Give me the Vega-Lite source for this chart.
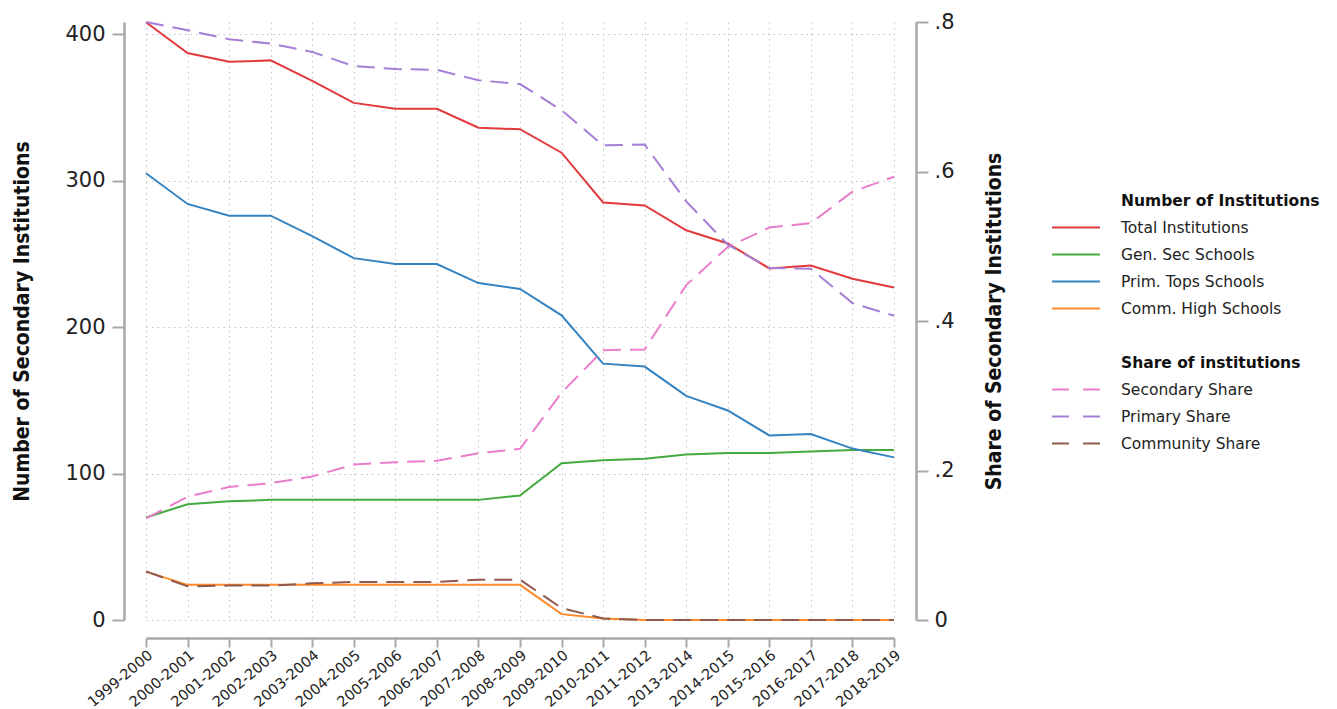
{
  "$schema": "https://vega.github.io/schema/vega-lite/v6.json",
  "width": 748,
  "height": 598,
  "autosize": {"type": "none"},
  "padding": {"left": 146, "top": 22, "right": 443, "bottom": 89},
  "background": "white",
  "config": {
    "view": {"stroke": null},
    "axis": {
      "labelFont": "DejaVu Sans",
      "labelColor": "#222222",
      "domainColor": "#a8a8a8",
      "tickColor": "#a8a8a8",
      "domainWidth": 2.5,
      "tickWidth": 2,
      "gridColor": "#c4c4c4",
      "gridDash": [1.5, 4],
      "gridWidth": 1,
      "titleFont": "DejaVu Sans Condensed, DejaVu Sans",
      "titleFontWeight": "bold",
      "titleColor": "#111111"
    },
    "legend": {
      "labelFont": "DejaVu Sans",
      "labelColor": "#222222",
      "titleFont": "DejaVu Sans",
      "titleFontWeight": "bold",
      "titleColor": "#111111",
      "padding": 0,
      "titleLimit": 400,
      "labelLimit": 400
    }
  },
  "datasets": {
    "counts": [
      {"period": "1999-2000", "series": "Total Institutions", "value": 408},
      {"period": "2000-2001", "series": "Total Institutions", "value": 387},
      {"period": "2001-2002", "series": "Total Institutions", "value": 381},
      {"period": "2002-2003", "series": "Total Institutions", "value": 382},
      {"period": "2003-2004", "series": "Total Institutions", "value": 368},
      {"period": "2004-2005", "series": "Total Institutions", "value": 353},
      {"period": "2005-2006", "series": "Total Institutions", "value": 349},
      {"period": "2006-2007", "series": "Total Institutions", "value": 349},
      {"period": "2007-2008", "series": "Total Institutions", "value": 336},
      {"period": "2008-2009", "series": "Total Institutions", "value": 335},
      {"period": "2009-2010", "series": "Total Institutions", "value": 319},
      {"period": "2010-2011", "series": "Total Institutions", "value": 285},
      {"period": "2011-2012", "series": "Total Institutions", "value": 283},
      {"period": "2013-2014", "series": "Total Institutions", "value": 266},
      {"period": "2014-2015", "series": "Total Institutions", "value": 257},
      {"period": "2015-2016", "series": "Total Institutions", "value": 240},
      {"period": "2016-2017", "series": "Total Institutions", "value": 242},
      {"period": "2017-2018", "series": "Total Institutions", "value": 233},
      {"period": "2018-2019", "series": "Total Institutions", "value": 227},
      {"period": "1999-2000", "series": "Gen. Sec Schools", "value": 70},
      {"period": "2000-2001", "series": "Gen. Sec Schools", "value": 79},
      {"period": "2001-2002", "series": "Gen. Sec Schools", "value": 81},
      {"period": "2002-2003", "series": "Gen. Sec Schools", "value": 82},
      {"period": "2003-2004", "series": "Gen. Sec Schools", "value": 82},
      {"period": "2004-2005", "series": "Gen. Sec Schools", "value": 82},
      {"period": "2005-2006", "series": "Gen. Sec Schools", "value": 82},
      {"period": "2006-2007", "series": "Gen. Sec Schools", "value": 82},
      {"period": "2007-2008", "series": "Gen. Sec Schools", "value": 82},
      {"period": "2008-2009", "series": "Gen. Sec Schools", "value": 85},
      {"period": "2009-2010", "series": "Gen. Sec Schools", "value": 107},
      {"period": "2010-2011", "series": "Gen. Sec Schools", "value": 109},
      {"period": "2011-2012", "series": "Gen. Sec Schools", "value": 110},
      {"period": "2013-2014", "series": "Gen. Sec Schools", "value": 113},
      {"period": "2014-2015", "series": "Gen. Sec Schools", "value": 114},
      {"period": "2015-2016", "series": "Gen. Sec Schools", "value": 114},
      {"period": "2016-2017", "series": "Gen. Sec Schools", "value": 115},
      {"period": "2017-2018", "series": "Gen. Sec Schools", "value": 116},
      {"period": "2018-2019", "series": "Gen. Sec Schools", "value": 116},
      {"period": "1999-2000", "series": "Prim. Tops Schools", "value": 305},
      {"period": "2000-2001", "series": "Prim. Tops Schools", "value": 284},
      {"period": "2001-2002", "series": "Prim. Tops Schools", "value": 276},
      {"period": "2002-2003", "series": "Prim. Tops Schools", "value": 276},
      {"period": "2003-2004", "series": "Prim. Tops Schools", "value": 262},
      {"period": "2004-2005", "series": "Prim. Tops Schools", "value": 247},
      {"period": "2005-2006", "series": "Prim. Tops Schools", "value": 243},
      {"period": "2006-2007", "series": "Prim. Tops Schools", "value": 243},
      {"period": "2007-2008", "series": "Prim. Tops Schools", "value": 230},
      {"period": "2008-2009", "series": "Prim. Tops Schools", "value": 226},
      {"period": "2009-2010", "series": "Prim. Tops Schools", "value": 208},
      {"period": "2010-2011", "series": "Prim. Tops Schools", "value": 175},
      {"period": "2011-2012", "series": "Prim. Tops Schools", "value": 173},
      {"period": "2013-2014", "series": "Prim. Tops Schools", "value": 153},
      {"period": "2014-2015", "series": "Prim. Tops Schools", "value": 143},
      {"period": "2015-2016", "series": "Prim. Tops Schools", "value": 126},
      {"period": "2016-2017", "series": "Prim. Tops Schools", "value": 127},
      {"period": "2017-2018", "series": "Prim. Tops Schools", "value": 117},
      {"period": "2018-2019", "series": "Prim. Tops Schools", "value": 111},
      {"period": "1999-2000", "series": "Comm. High Schools", "value": 33},
      {"period": "2000-2001", "series": "Comm. High Schools", "value": 24},
      {"period": "2001-2002", "series": "Comm. High Schools", "value": 24},
      {"period": "2002-2003", "series": "Comm. High Schools", "value": 24},
      {"period": "2003-2004", "series": "Comm. High Schools", "value": 24},
      {"period": "2004-2005", "series": "Comm. High Schools", "value": 24},
      {"period": "2005-2006", "series": "Comm. High Schools", "value": 24},
      {"period": "2006-2007", "series": "Comm. High Schools", "value": 24},
      {"period": "2007-2008", "series": "Comm. High Schools", "value": 24},
      {"period": "2008-2009", "series": "Comm. High Schools", "value": 24},
      {"period": "2009-2010", "series": "Comm. High Schools", "value": 4},
      {"period": "2010-2011", "series": "Comm. High Schools", "value": 1},
      {"period": "2011-2012", "series": "Comm. High Schools", "value": 0},
      {"period": "2013-2014", "series": "Comm. High Schools", "value": 0},
      {"period": "2014-2015", "series": "Comm. High Schools", "value": 0},
      {"period": "2015-2016", "series": "Comm. High Schools", "value": 0},
      {"period": "2016-2017", "series": "Comm. High Schools", "value": 0},
      {"period": "2017-2018", "series": "Comm. High Schools", "value": 0},
      {"period": "2018-2019", "series": "Comm. High Schools", "value": 0}
    ],
    "shares": [
      {"period": "1999-2000", "series": "Secondary Share", "value": 0.136},
      {"period": "2000-2001", "series": "Secondary Share", "value": 0.165},
      {"period": "2001-2002", "series": "Secondary Share", "value": 0.178},
      {"period": "2002-2003", "series": "Secondary Share", "value": 0.183},
      {"period": "2003-2004", "series": "Secondary Share", "value": 0.192},
      {"period": "2004-2005", "series": "Secondary Share", "value": 0.208},
      {"period": "2005-2006", "series": "Secondary Share", "value": 0.211},
      {"period": "2006-2007", "series": "Secondary Share", "value": 0.213},
      {"period": "2007-2008", "series": "Secondary Share", "value": 0.223},
      {"period": "2008-2009", "series": "Secondary Share", "value": 0.229},
      {"period": "2009-2010", "series": "Secondary Share", "value": 0.304},
      {"period": "2010-2011", "series": "Secondary Share", "value": 0.361},
      {"period": "2011-2012", "series": "Secondary Share", "value": 0.362},
      {"period": "2013-2014", "series": "Secondary Share", "value": 0.448},
      {"period": "2014-2015", "series": "Secondary Share", "value": 0.499},
      {"period": "2015-2016", "series": "Secondary Share", "value": 0.525},
      {"period": "2016-2017", "series": "Secondary Share", "value": 0.531},
      {"period": "2017-2018", "series": "Secondary Share", "value": 0.573},
      {"period": "2018-2019", "series": "Secondary Share", "value": 0.593},
      {"period": "1999-2000", "series": "Primary Share", "value": 0.800},
      {"period": "2000-2001", "series": "Primary Share", "value": 0.789},
      {"period": "2001-2002", "series": "Primary Share", "value": 0.777},
      {"period": "2002-2003", "series": "Primary Share", "value": 0.771},
      {"period": "2003-2004", "series": "Primary Share", "value": 0.760},
      {"period": "2004-2005", "series": "Primary Share", "value": 0.741},
      {"period": "2005-2006", "series": "Primary Share", "value": 0.737},
      {"period": "2006-2007", "series": "Primary Share", "value": 0.736},
      {"period": "2007-2008", "series": "Primary Share", "value": 0.722},
      {"period": "2008-2009", "series": "Primary Share", "value": 0.717},
      {"period": "2009-2010", "series": "Primary Share", "value": 0.682},
      {"period": "2010-2011", "series": "Primary Share", "value": 0.635},
      {"period": "2011-2012", "series": "Primary Share", "value": 0.636},
      {"period": "2013-2014", "series": "Primary Share", "value": 0.560},
      {"period": "2014-2015", "series": "Primary Share", "value": 0.502},
      {"period": "2015-2016", "series": "Primary Share", "value": 0.471},
      {"period": "2016-2017", "series": "Primary Share", "value": 0.470},
      {"period": "2017-2018", "series": "Primary Share", "value": 0.424},
      {"period": "2018-2019", "series": "Primary Share", "value": 0.407},
      {"period": "1999-2000", "series": "Community Share", "value": 0.065},
      {"period": "2000-2001", "series": "Community Share", "value": 0.045},
      {"period": "2001-2002", "series": "Community Share", "value": 0.046},
      {"period": "2002-2003", "series": "Community Share", "value": 0.046},
      {"period": "2003-2004", "series": "Community Share", "value": 0.049},
      {"period": "2004-2005", "series": "Community Share", "value": 0.051},
      {"period": "2005-2006", "series": "Community Share", "value": 0.051},
      {"period": "2006-2007", "series": "Community Share", "value": 0.051},
      {"period": "2007-2008", "series": "Community Share", "value": 0.054},
      {"period": "2008-2009", "series": "Community Share", "value": 0.054},
      {"period": "2009-2010", "series": "Community Share", "value": 0.016},
      {"period": "2010-2011", "series": "Community Share", "value": 0.002},
      {"period": "2011-2012", "series": "Community Share", "value": 0},
      {"period": "2013-2014", "series": "Community Share", "value": 0},
      {"period": "2014-2015", "series": "Community Share", "value": 0},
      {"period": "2015-2016", "series": "Community Share", "value": 0},
      {"period": "2016-2017", "series": "Community Share", "value": 0},
      {"period": "2017-2018", "series": "Community Share", "value": 0},
      {"period": "2018-2019", "series": "Community Share", "value": 0}
    ]
  },
  "encoding": {
    "x": {
      "field": "period",
      "type": "ordinal",
      "sort": null,
      "scale": {"type": "point", "padding": 0},
      "axis": {
        "title": null,
        "offset": 18,
        "tickSize": 9,
        "labelAngle": -40,
        "labelFontSize": 14.5,
        "labelPadding": 1,
        "grid": true
      }
    }
  },
  "layer": [
    {
      "data": {"name": "counts"},
      "mark": {"type": "line", "strokeWidth": 2, "clip": false},
      "encoding": {
        "y": {
          "field": "value",
          "type": "quantitative",
          "scale": {"domain": [0, 408.2], "nice": false, "zero": true},
          "axis": {
            "title": "Number of Secondary Institutions",
            "values": [0, 100, 200, 300, 400],
            "offset": 22,
            "tickSize": 12,
            "labelFontSize": 21,
            "labelPadding": 7,
            "titleFontSize": 21,
            "titlePadding": 32,
            "grid": true
          }
        },
        "color": {
          "field": "series",
          "type": "nominal",
          "scale": {
            "domain": ["Total Institutions", "Gen. Sec Schools", "Prim. Tops Schools", "Comm. High Schools"],
            "range": ["#e2393c", "#43ab3f", "#3583c1", "#ff8a2a"]
          },
          "legend": {
            "title": "Number of Institutions",
            "orient": "none",
            "legendX": 975,
            "legendY": 172,
            "symbolType": "M-2.4,0H2.4",
            "symbolSize": 400,
            "symbolStrokeWidth": 2,
            "symbolOffset": -56,
            "labelOffset": 34,
            "labelFontSize": 15.5,
            "titleFontSize": 15.5,
            "rowPadding": 7,
            "titlePadding": 7
          }
        }
      }
    },
    {
      "data": {"name": "shares"},
      "mark": {"type": "line", "strokeWidth": 2, "strokeDash": [18, 9], "clip": false},
      "encoding": {
        "y": {
          "field": "value",
          "type": "quantitative",
          "scale": {"domain": [0, 0.8], "nice": false, "zero": true},
          "axis": {
            "orient": "right",
            "title": "Share of Secondary Institutions",
            "values": [0, 0.2, 0.4, 0.6, 0.8],
            "labelExpr": "datum.value == 0 ? '0' : replace(format(datum.value, '.1f'), '0.', '.')",
            "offset": 22,
            "tickSize": 12,
            "labelFontSize": 21,
            "labelPadding": 6,
            "titleAngle": 270,
            "titleFontSize": 21,
            "titlePadding": 50,
            "grid": false
          }
        },
        "color": {
          "field": "series",
          "type": "nominal",
          "scale": {
            "domain": ["Secondary Share", "Primary Share", "Community Share"],
            "range": ["#ea7dcc", "#a57fd6", "#8f5a4d"]
          },
          "legend": {
            "title": "Share of institutions",
            "orient": "none",
            "legendX": 975,
            "legendY": 334,
            "symbolType": "M-2.4,0H2.4",
            "symbolSize": 400,
            "symbolStrokeWidth": 2,
            "symbolDash": [17, 14],
            "symbolOffset": -56,
            "labelOffset": 34,
            "labelFontSize": 15.5,
            "titleFontSize": 15.5,
            "rowPadding": 7,
            "titlePadding": 7
          }
        }
      }
    }
  ],
  "resolve": {"scale": {"y": "independent", "color": "independent"}}
}
